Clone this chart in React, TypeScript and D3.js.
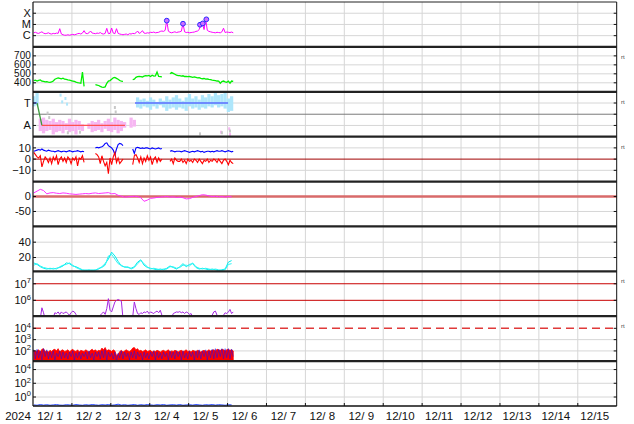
import React from 'react'
import * as d3 from 'd3'

// layout
const width = 634
const height = 424
const plotLeft = 33
const plotRight = 616.7
const plotTop = 2
const plotBottom = 406
const panelCount = 9
const panelH = (plotBottom - plotTop) / panelCount

// time axis: hours since 2024-12-01 00:00 UT
const yearLabel = '2024'
const dayLabels = ['12/ 1', '12/ 2', '12/ 3', '12/ 4', '12/ 5', '12/ 6', '12/ 7', '12/ 8', '12/ 9', '12/10', '12/11', '12/12', '12/13', '12/14', '12/15']
const hourlyStart = 0.5
const twoHourlyStart = 0.5

// x-ray flux, units of 1e-6 W/m2 (C1 = 1)
const xrayFlux = [
  1.8, 2.0, 1.7, 1.6, 1.9, 2.2, 1.7, 1.5, 1.6, 1.8,
  1.5, 1.4, 1.6, 1.5, 1.7, 1.6, 4.2, 1.4, 1.2, 1.1,
  1.1, 1.2, 1.1, 1.2, 1.3, 1.2, 1.3, 1.5, 1.6, 1.4,
  1.7, 2.8, 1.6, 1.5, 1.8, 2.6, 1.7, 1.6, 1.5, 1.7,
  1.6, 1.9, 1.5, 1.4, 1.6, 4.5, 1.5, 1.6, 4.8, 1.7,
  1.5, 4.2, 1.6, 1.4, 1.3, 1.2, 1.3, 1.4, 1.2, 1.5,
  1.4, 1.6, 1.5, 1.8, 2.6, 1.6, 1.9, 2.8, 1.7, 1.6,
  1.8, 1.7, 2.0, 1.9, 2.1, 1.8, 1.9, 2.0, 2.4, 2.6,
  2.4, 3.0, 22, 2.5, 2.0, 1.8, 2.0, 2.2, 1.9, 2.1,
  2.2, 2.5, 12, 2.2, 1.9, 2.0, 1.8, 1.9, 2.0, 2.1,
  2.4, 2.6, 3.5, 9.4, 12, 3.5, 28, 3.0, 2.4, 2.2,
  2.0, 1.9, 1.8, 2.0, 1.9, 1.8, 2.2, 4.6, 1.9, 2.1,
  2.0, 1.9, 2.1, 1.8,
]
const flareHours = [82.5, 92.5, 103, 104.7, 106.9]
const flareFlux = [21.7, 11.6, 9.4, 12.3, 28.5]

// solar wind speed km/s
const windSpeed = [
  425, 430, 420, 428, 432, 418, 415, 410, 412, 408,
  405, 410, 420, 440, 448, 455, 450, 445, 452, 440,
  438, 432, 430, 425, 420, 415, 408, 402, 398, 395,
  520, 360, null, null, null, null, null, null, 380, 375,
  370, 360, 352, 350, 355, 395, 420, 425, 440, 455,
  460, 450, 440, 425, 418, 415, null, null, null, null,
  null, 435, 440, 460, 468, 472, 470, 465, 475, 480,
  478, 482, 470, 485, 475, 478, 520, 470, 468, 465,
  null, null, null, null, 500, 515, 505, 495, 485, 480,
  480, 475, 478, 470, 472, 468, 470, 465, 460, 465,
  460, 455, 458, 450, 445, 448, 440, 442, 438, 435,
  430, 428, 425, 420, 418, 395, 415, 420, 410, 405,
  418, 395, 420, 415,
]

// imf sector: toward = 1, away = -1 (2-hourly band of the azimuth scatter)
const sectorHi = [
  1.6, 1.9, -0.4, -0.3, -0.5, -0.6, -0.4, -0.7, -0.5, -0.6,
  -0.8, -0.4, -0.7, -0.5, -0.6, -0.9, null, -0.8, -0.6, -0.7,
  -0.5, -0.8, -0.6, -0.4, -0.7, -0.3, -0.5, -0.6, -0.7, null,
  -0.3, -0.5, 1.5, 1.3, 1.4, 1.2, 1.5, 1.3, 1.1, 1.4,
  1.2, 1.6, 1.3, 1.5, 1.7, 1.4, 1.2, 1.5, 1.8, 1.4,
  1.6, 1.3, 1.7, 1.5, 1.8, 1.6, 1.9, 1.7, 1.8, 1.9,
  1.4, 1.6,
]
const sectorLo = [
  0.7, 0.8, -1.5, -1.7, -1.5, -1.4, -1.8, -1.6, -1.5, -1.7,
  -1.4, -1.6, -1.5, -1.8, -1.4, -1.5, null, -1.3, -1.6, -1.5,
  -1.4, -1.6, -1.3, -1.5, -1.6, -1.4, -1.7, -1.5, -1.2, null,
  -1.2, -1.1, 0.6, 0.5, 0.7, 0.6, 0.4, 0.7, 0.5, 0.8,
  0.6, 0.3, 0.5, 0.6, 0.4, 0.6, 0.5, 0.3, 0.7, 0.5,
  0.6, 0.4, 0.6, 0.5, 0.7, 0.6, 0.8, 0.6, 0.7, 0.5,
  0.2, 0.3,
]
const towardDotHours = [17, 18, 20, 21]
const towardDotValues = [1.7, 1.1, 1.4, 0.9]
const awayDotHours = [116, 121, 121.5]
const awayDotValues = [-1.6, -1.3, -1.8]
const greyDotHours = [9, 10, 21.5, 29, 50.5, 51, 103, 116.5, 121.5]
const greyDotValues = [0.1, -0.3, -1.65, -1.6, 0.6, 0.2, -1.75, -1.65, -1.5]
const sectorHours = [0, 2.5, 5.5, 56.7, 62.9, 120.3]
const sectorSides = [1, 1, -1, -1, 1, 1]

// imf |B| and Bz, nT
const imfBt = [
  7, 7.5, 8, 8.5, 8, 9, 8, 7.5, 7, 8,
  7.5, 7, 7, 6.5, 7, 7.5, 7, 6.5, 7, 7,
  6.5, 7, 7.5, 7, 6.5, 7, 7, 7.5, 7, 6.5,
  7, 6.5, null, null, null, null, null, null, 10, 10.5,
  10, 10.5, 11, 12, 14, 14.5, 12, 11, 10, 8,
  4, 9, 13, 14, 13.5, 12, null, null, null, null,
  null, 9, 5, 10, 10.5, 10, 9.5, 10, 9.5, 10,
  10, 9.5, 9, 10, 9.5, 9, 9.5, 10, 9, 9.5,
  null, null, null, null, 7, 7.5, 7, 6.5, 7, 7,
  7, 6.5, 7, 7.5, 7, 6.5, 6, 6.5, 7, 6.5,
  7, 7.5, 7, 6.5, 7, 6, 6.5, 7, 7, 6.5,
  7, 6.5, 7, 7.5, 7, 7, 7.5, 7, 6.5, 7,
  7.5, 7, 6.5, 7,
]
const imfBz = [
  6, 4, 2, 1, 3, -7, -2, 2, 0, -3,
  1, -4, 2, -1, 3, -5, 0, 2, -2, 1,
  -3, 2, 0, -4, 1, -1, 2, -6, 1, 0,
  3, -3, null, null, null, null, null, null, 5, 4,
  2, -4, 3, -2, -6, -3, -13, 1, -5, 2,
  6, -3, 1, -4, -2, 0, null, null, null, null,
  null, -5, 3, 4, 1, -3, 2, -4, 1, -2,
  3, -1, 2, -5, 0, 2, -3, 1, -2, 0,
  null, null, null, null, -2, 0, -4, 1, -1, -2,
  -2, 0, -3, -1, -4, 0, -2, -1, -3, 0,
  -1, -3, 0, -2, -4, -1, -2, 0, -3, -1,
  -2, 0, -1, -3, 0, -2, -4, -1, 0, -2,
  -5, -1, -3, -4,
]

// dst index nT (2-hourly)
const dstIndex = [
  12, 18, 24, 20, 9, 12, 13, 11, 10, 12,
  11, 9, 8, 7, 8, 9, 10, 9, 11, 12,
  10, 11, 12, 13, 9, 10, 4, 1, -2, -1,
  0, 1, 0, -4, -16, -12, -6, -5, -3, -2,
  -1, 0, -2, -1, -3, -2, -4, -8, -7, -3,
  0, 3, 6, 5, 2, 0, 1, -1, 0, -2,
  0, -1,
]

// geomagnetic activity, two stations (2-hourly)
const activityA = [
  13, 11, 8, 6, 5, 6, 5, 6, 7, 9,
  13, 12, 9, 8, 6, 4, 3, 4, 3, 4,
  5, 8, 12, 18, 27, 22, 15, 9, 8, 7,
  6, 8, 14, 17, 10, 7, 6, 5, 4, 5,
  4, 6, 9, 7, 5, 8, 12, 8, 11, 12,
  7, 5, 6, 5, 4, 5, 4, 3, 4, 5,
  14, 16,
]
const activityB = [
  10, 12, 9, 7, 6, 5, 6, 5, 8, 10,
  11, 13, 10, 7, 5, 3, 4, 3, 4, 3,
  6, 7, 10, 22, 24, 18, 12, 10, 7, 8,
  5, 7, 12, 16, 12, 8, 5, 6, 5, 4,
  5, 5, 8, 8, 6, 7, 10, 10, 9, 13,
  8, 6, 5, 6, 5, 4, 5, 4, 3, 4,
  11, 12,
]

// electron flux, log10
const electronLog = [
  4.7, 4.7, 4.8, 4.7, 4.9, 5.55, 5.25, 4.85, 4.7, 4.7,
  4.7, 4.8, 4.95, 5.25, 5.2, 5.3, 5.15, 5.3, 5.2, 5.25,
  5.3, 5.2, 5.1, 5.25, 5.35, 5.3, 5.15, 4.9, 4.7, 4.7,
  4.7, 4.7, 4.7, 4.7, 4.8, 4.9, 5.05, 4.8, 4.7, 4.7,
  4.9, 5.1, 5.2, 5.3, 5.15, 5.5, 6.1, 5.4, 5.3, 5.6,
  5.9, 6.0, 6.05, 6.0, 5.95, 4.9, 4.7, 4.7, 4.7, 4.7,
  4.8, 5.0, 5.9, 5.5, 5.2, 5.15, 5.25, 5.2, 5.3, 5.25,
  5.35, 5.2, 5.3, 5.25, 5.2, 5.3, 5.35, 5.25, 5.4, 5.1,
  4.9, 4.7, 4.7, 4.7, 4.8, 4.95, 5.2, 5.25, 5.3, 5.28,
  5.32, 5.25, 5.3, 5.2, 5.3, 5.25, 5.15, 5.2, 5.0, 4.9,
  4.7, 4.8, 5.0, 5.1, 4.85, 4.7, 4.7, 4.7, 4.7, 4.8,
  5.1, 5.3, 5.35, 5.1, 4.85, 4.7, 4.8, 5.1, 5.25, 5.2,
  5.3, 5.45, 5.2, 5.3,
]

// proton flux, log10 (red and blue channels)
const protonRedLog = [
  2.05, 1.95, 2.0, 2.1, 1.9, 2.15, 2.2, 1.95, 2.0, 1.9,
  2.05, 1.95, 2.1, 2.15, 2.0, 2.2, 1.9, 2.05, 2.1, 1.95,
  2.0, 2.1, 1.9, 2.05, 2.15, 2.0, 1.95, 2.1, 1.9, 2.05,
  2.0, 1.95, 2.1, 2.0, 1.9, 2.05, 2.15, 2.0, 2.1, 1.95,
  2.05, 2.0, 2.25, 2.1, 2.3, 2.0, 2.1, 2.05, 1.95, 2.1,
  2.0, 1.6, 1.7, 1.95, 2.05, 1.9, 2.0, 2.1, 2.0, 1.95,
  2.05, 2.25, 2.3, 2.1, 2.2, 2.0, 2.05, 1.95, 2.0, 2.1,
  1.95, 2.0, 2.05, 1.9, 2.0, 1.95, 2.05, 2.0, 1.9, 2.0,
  2.05, 1.95, 2.0, 2.1, 1.9, 2.0, 1.95, 2.05, 2.0, 1.9,
  2.0, 2.05, 1.95, 2.0, 2.1, 1.95, 2.0, 1.9, 2.05, 2.0,
  1.95, 2.05, 2.0, 1.9, 2.0, 2.05, 1.95, 2.0, 2.1, 2.0,
  2.05, 2.1, 2.0, 2.15, 2.1, 2.05, 2.15, 2.1, 2.0, 2.1,
  2.15, 2.05, 2.1, 2.0,
]
const protonBlueLog = [
  2.1, 1.3, 2.15, 1.4, 2.0, 1.2, 2.2, 1.5, 2.1, 1.3,
  1.9, 1.4, 2.0, 1.2, 1.8, 1.5, 2.0, 1.3, 1.9, 1.4,
  1.8, 1.3, 1.9, 1.5, 2.0, 1.2, 1.8, 1.4, 1.9, 1.3,
  1.8, 1.5, 1.9, 1.3, 2.0, 1.4, 1.8, 1.2, 1.9, 1.5,
  1.9, 1.3, 2.0, 1.4, 2.1, 1.2, 1.9, 1.5, 1.8, 1.3,
  1.9, 1.1, 1.8, 1.4, 2.0, 1.3, 1.9, 1.5, 1.8, 1.2,
  1.9, 1.4, 2.0, 1.3, 1.9, 1.5, 1.8, 1.2, 1.9, 1.4,
  1.8, 1.3, 1.9, 1.5, 2.0, 1.2, 1.9, 1.4, 1.8, 1.3,
  1.9, 1.5, 1.8, 1.2, 2.0, 1.4, 1.9, 1.3, 2.0, 1.5,
  1.9, 1.2, 2.0, 1.4, 1.8, 1.3, 2.0, 1.5, 1.9, 1.2,
  2.0, 1.4, 2.1, 1.3, 2.0, 1.5, 2.1, 1.2, 2.0, 1.4,
  2.15, 1.3, 2.2, 1.4, 2.15, 1.5, 2.2, 1.3, 2.2, 1.4,
  2.2, 1.3, 2.15, 1.5,
]

// bottom channel, log10 (2-hourly)
const bottomLog = [
  -1.15, -1.2, -1.1, -1.18, -1.12, -1.2, -1.15, -1.1, -1.18, -1.2,
  -1.12, -1.15, -1.2, -1.1, -1.16, -1.2, -1.12, -1.18, -1.1, -1.15,
  -1.2, -1.12, -1.16, -1.1, -1.2, -1.15, -1.05, -1.18, -1.12, -1.2,
  -1.15, -1.1, -1.2, -1.12, -1.18, -1.1, -1.15, -1.2, -1.12, -1.16,
  -1.1, -1.2, -1.15, -1.12, -1.18, -1.1, -1.2, -1.15, -1.12, -1.18,
  -1.1, -1.15, -1.2, -1.12, -1.16, -1.1, -1.18, -1.12, -1.15, -1.2,
  -1.12, -1.15,
]

type Pt = { t: number; v: number | null }
const series = (start: number, step: number, values: (number | null)[]): Pt[] =>
  values.map((v, i) => ({ t: start + i * step, v }))

const pTop = (i: number) => plotTop + i * panelH
const pBot = (i: number) => plotTop + (i + 1) * panelH

const x = d3.scaleLinear().domain([0, 360]).range([plotLeft, plotRight])

// panel scales
const yXray = d3.scaleLog().domain([1e-7, 1e-3]).range([pBot(0), pTop(0)])
const ySpeed = d3.scaleLinear().domain([300, 800]).range([pBot(1), pTop(1)])
const ySector = d3.scaleLinear().domain([-2, 2]).range([pBot(2), pTop(2)])
const yImf = d3.scaleLinear().domain([-20, 20]).range([pBot(3), pTop(3)])
const yDst = d3.scaleLinear().domain([-100, 50]).range([pBot(4), pTop(4)])
const yAct = d3.scaleLinear().domain([2, 60.5]).range([pBot(5), pTop(5)])
const yElec = d3.scaleLinear().domain([5.04, 7.75]).range([pBot(6), pTop(6)])
const yProt = d3.scaleLinear().domain([1.1, 5.07]).range([pBot(7), pTop(7)])
const yBot = d3.scaleLinear().domain([-1.31, 5.23]).range([pBot(8), pTop(8)])

const linePath = (data: Pt[], y: (v: number) => number) =>
  d3.line<Pt>()
    .defined((d) => d.v !== null)
    .x((d) => x(d.t))
    .y((d) => y(d.v as number))(data) || ''

type Tick = { y: number; label: string; sup?: string; size?: number }

const font = "'Liberation Sans', Arial, sans-serif"

const App = () => {
  const days = d3.range(1, 15).map((d) => d * 24)

  // tick labels per panel
  const ticks: Tick[] = [
    { y: yXray(1e-4), label: 'X' },
    { y: yXray(1e-5), label: 'M' },
    { y: yXray(1e-6), label: 'C' },
    ...[700, 600, 500, 400].map((v) => ({ y: ySpeed(v), label: String(v), size: 10 })),
    { y: ySector(1), label: 'T' },
    { y: ySector(-1), label: 'A' },
    { y: yImf(10), label: '10' },
    { y: yImf(0), label: '0' },
    { y: yImf(-10), label: '\u221210' },
    { y: yDst(0), label: '0' },
    { y: yDst(-50), label: '-50' },
    { y: yAct(40), label: '40' },
    { y: yAct(20), label: '20' },
    { y: yElec(7), label: '10', sup: '7' },
    { y: yElec(6), label: '10', sup: '6' },
    { y: yProt(4), label: '10', sup: '4' },
    { y: yProt(3), label: '10', sup: '3' },
    { y: yProt(2), label: '10', sup: '2' },
    { y: yBot(4), label: '10', sup: '4' },
    { y: yBot(2), label: '10', sup: '2' },
    { y: yBot(0), label: '10', sup: '0' },
  ]

  // light grey horizontal grid
  const grid = [
    yXray(1e-4), yXray(1e-5), yXray(1e-6),
    ...[700, 600, 500, 400].map(ySpeed),
    ySector(1), ySector(-1),
    yImf(10), yImf(-10),
    yDst(-50),
    yAct(40), yAct(20),
    yProt(3), yProt(2),
    yBot(4), yBot(2), yBot(0),
  ]
  const rightTicks = [...grid, ySector(0), yImf(0), yDst(0), yElec(7), yElec(6), yProt(4)]

  const xray = series(hourlyStart, 1, xrayFlux)
  const speed = series(hourlyStart, 1, windSpeed)
  const bt = series(hourlyStart, 1, imfBt)
  const bz = series(hourlyStart, 1, imfBz)
  const dst = series(twoHourlyStart, 2, dstIndex)
  const actA = series(twoHourlyStart, 2, activityA)
  const actB = series(twoHourlyStart, 2, activityB)
  const elec = series(hourlyStart, 1, electronLog)
  const protRed = series(hourlyStart, 1, protonRedLog)
  const protBlue = series(hourlyStart, 1, protonBlueLog)
  const bottom = series(twoHourlyStart, 2, bottomLog)

  const redArea = d3.area<Pt>()
    .x((d) => x(d.t))
    .y0(pBot(7) + 2)
    .y1((d) => yProt(d.v as number))(protRed) || ''

  // sector line segments
  const sectorSegs: { x1: number; y1: number; x2: number; y2: number; c: string }[] = []
  for (let i = 0; i < sectorHours.length - 1; i++) {
    const a = sectorSides[i], b = sectorSides[i + 1]
    const dt = sectorHours[i + 1] - sectorHours[i]
    let c = ''
    if (a === b) c = a > 0 ? '#5a6cff' : '#ff5050'
    else if (dt < 4) c = '#3c9a3c'
    if (!c) continue
    sectorSegs.push({ x1: x(sectorHours[i]), y1: ySector(a), x2: x(sectorHours[i + 1]), y2: ySector(b), c })
  }

  const bandW = x(2) - x(0)
  const rtPanels = [1, 2, 3, 6, 7]

  return (
    <svg width={width} height={height} style={{ display: 'block', position: 'absolute', left: 0, top: 0, background: '#fff' }} fontFamily={font}>
      <defs>
        {d3.range(panelCount).map((i) => (
          <clipPath id={`clip${i}`} key={i}>
            <rect x={plotLeft} y={pTop(i)} width={plotRight - plotLeft} height={panelH} />
          </clipPath>
        ))}
      </defs>

      {/* grid */}
      {days.map((h) => (
        <line key={h} x1={x(h)} x2={x(h)} y1={plotTop} y2={plotBottom} stroke='#d6d6d6' strokeWidth={1} />
      ))}
      {grid.map((y, i) => (
        <line key={i} x1={plotLeft} x2={plotRight} y1={y} y2={y} stroke='#d6d6d6' strokeWidth={1} />
      ))}

      {/* reference lines */}
      <line x1={plotLeft} x2={plotRight} y1={ySector(0)} y2={ySector(0)} stroke='#7a7a7a' strokeWidth={1} />
      <line x1={plotLeft} x2={plotRight} y1={yImf(0)} y2={yImf(0)} stroke='#a00000' strokeWidth={1} />
      <line x1={plotLeft} x2={plotRight} y1={yDst(0)} y2={yDst(0)} stroke='#d86a6a' strokeWidth={2.4} />
      <line x1={plotLeft} x2={plotRight} y1={yElec(7)} y2={yElec(7)} stroke='#c80000' strokeWidth={1} />
      <line x1={plotLeft} x2={plotRight} y1={yElec(6)} y2={yElec(6)} stroke='#c80000' strokeWidth={1} />
      <line x1={plotLeft} x2={plotRight} y1={yProt(4)} y2={yProt(4)} stroke='#e03a3a' strokeWidth={1.4} strokeDasharray='8,5' />

      {/* x-ray */}
      <g clipPath='url(#clip0)'>
        <path d={linePath(xray, (v) => yXray(v * 1e-6))} fill='none' stroke='#ff00ff' strokeWidth={1} />
        {flareHours.map((h, i) => (
          <circle key={i} cx={x(h)} cy={yXray(flareFlux[i] * 1e-6)} r={2.4} fill='#d070ff' stroke='#2a2aff' strokeWidth={1} />
        ))}
      </g>

      {/* solar wind speed */}
      <g clipPath='url(#clip1)'>
        <path d={linePath(speed, ySpeed)} fill='none' stroke='#00f000' strokeWidth={1.3} />
      </g>

      {/* imf sector */}
      <g clipPath='url(#clip2)'>
        {sectorHi.map((hi, i) => {
          const lo = sectorLo[i]
          if (hi === null || lo === null) return null
          const t = twoHourlyStart + i * 2
          return (
            <rect key={i} x={x(t) - bandW / 2} y={ySector(hi)} width={bandW} height={ySector(lo) - ySector(hi)}
              fill={hi > 0 ? '#aee6fb' : '#f6b6f2'} />
          )
        })}
        {towardDotHours.map((h, i) => (
          <rect key={'t' + i} x={x(h) - 1} y={ySector(towardDotValues[i]) - 1.5} width={2} height={3} fill='#aee6fb' />
        ))}
        {awayDotHours.map((h, i) => (
          <rect key={'a' + i} x={x(h) - 1} y={ySector(awayDotValues[i]) - 1.5} width={2} height={3} fill='#f6b6f2' />
        ))}
        {greyDotHours.map((h, i) => (
          <rect key={'g' + i} x={x(h) - 1} y={ySector(greyDotValues[i]) - 1.5} width={2} height={3} fill='#c8c8c8' />
        ))}
        {sectorSegs.map((s, i) => (
          <line key={'s' + i} x1={s.x1} y1={s.y1} x2={s.x2} y2={s.y2} stroke={s.c} strokeWidth={1.3} />
        ))}
      </g>

      {/* imf */}
      <g clipPath='url(#clip3)'>
        <path d={linePath(bt, yImf)} fill='none' stroke='#0000ff' strokeWidth={1.1} />
        <path d={linePath(bz, yImf)} fill='none' stroke='#ff0000' strokeWidth={1.1} />
      </g>

      {/* dst */}
      <g clipPath='url(#clip4)'>
        <path d={linePath(dst, yDst)} fill='none' stroke='#ff30ff' strokeWidth={1} />
      </g>

      {/* activity */}
      <g clipPath='url(#clip5)'>
        <path d={linePath(actA, yAct)} fill='none' stroke='#00ecec' strokeWidth={1} />
        <path d={linePath(actB, yAct)} fill='none' stroke='#30f4f4' strokeWidth={1} />
      </g>

      {/* electrons */}
      <g clipPath='url(#clip6)'>
        <path d={linePath(elec, yElec)} fill='none' stroke='#a426e0' strokeWidth={1} />
      </g>

      {/* protons */}
      <g clipPath='url(#clip7)'>
        <path d={redArea} fill='#ff0000' stroke='#ff0000' strokeWidth={0.8} />
        <path d={linePath(protBlue, yProt)} fill='none' stroke='#1010ff' strokeWidth={0.6} strokeOpacity={0.85} />
      </g>

      {/* bottom channel */}
      <g clipPath='url(#clip8)'>
        <path d={linePath(bottom, yBot)} fill='none' stroke='#2a4cff' strokeWidth={1} />
      </g>

      {/* panel separators and frame */}
      {d3.range(1, panelCount).map((i) => (
        <line key={i} x1={plotLeft} x2={plotRight} y1={pTop(i)} y2={pTop(i)} stroke='#222' strokeWidth={2.2} />
      ))}
      <line x1={plotLeft} x2={plotRight} y1={plotTop} y2={plotTop} stroke='#222' strokeWidth={1} />
      <line x1={plotLeft} x2={plotRight} y1={plotBottom} y2={plotBottom} stroke='#111' strokeWidth={1.5} />
      <line x1={plotLeft} x2={plotLeft} y1={plotTop} y2={plotBottom} stroke='#111' strokeWidth={1.2} />
      <line x1={plotRight} x2={plotRight} y1={plotTop} y2={plotBottom} stroke='#111' strokeWidth={1} />

      {/* ticks */}
      {ticks.map((t, i) => (
        <line key={i} x1={plotLeft} x2={plotLeft + 3} y1={t.y} y2={t.y} stroke='#111' />
      ))}
      {rightTicks.map((y, i) => (
        <line key={i} x1={plotRight - 3} x2={plotRight} y1={y} y2={y} stroke='#111' />
      ))}
      {days.map((h) => (
        <line key={h} x1={x(h)} x2={x(h)} y1={plotBottom - 3} y2={plotBottom} stroke='#111' />
      ))}

      {/* y labels */}
      {ticks.map((t, i) => (
        <text key={i} x={30.8} y={t.y + (t.size ? 3.5 : 3.8)} textAnchor='end' fontSize={t.size || 11} fill='#111'>
          {t.label}
          {t.sup !== undefined && <tspan dy={-4.5} fontSize={7.5}>{t.sup}</tspan>}
        </text>
      ))}

      {/* rt marks */}
      {rtPanels.map((p) => (
        <text key={p} x={621} y={pTop(p) + 12} fontSize={6} fill='#444'>rt</text>
      ))}

      {/* x labels */}
      <text x={18} y={420} textAnchor='middle' fontSize={11.5} fill='#111'>{yearLabel}</text>
      {dayLabels.map((d, i) => (
        <text key={d} x={x(i * 24 + 12) - 2.5} y={420} textAnchor='middle' fontSize={11.5} fill='#111' style={{ whiteSpace: 'pre' }}>{d}</text>
      ))}
    </svg>
  )
}

export default App
